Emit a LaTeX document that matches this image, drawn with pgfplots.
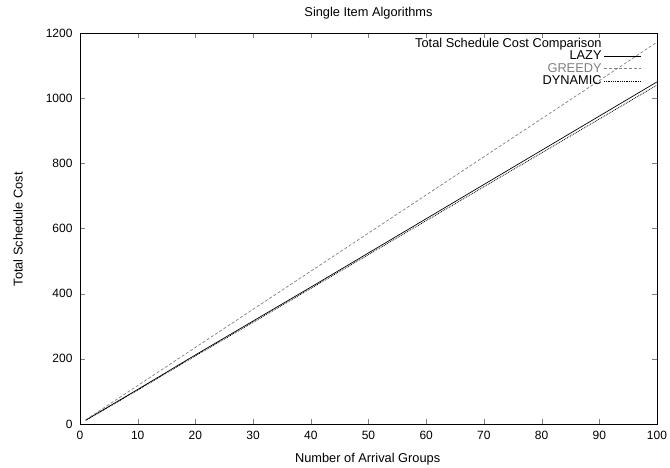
\documentclass[border=0pt]{standalone}
\usepackage{fontspec}
\setmainfont{Liberation Sans}
\usepackage{pgfplots}
\pgfplotsset{compat=1.18}
\begin{document}
\begin{tikzpicture}
\begin{axis}[
  scale only axis,
  width=577pt, height=391pt,
  xmin=0, xmax=100, ymin=0, ymax=1200,
  xtick={0,10,...,100}, ytick={0,200,...,1200},
  tick align=inside,
  major tick length=5pt,
  /pgf/number format/assume math mode=true,
  /pgf/number format/1000 sep={},
  tick label style={font=\fontsize{12}{13}\selectfont},
  title={Single Item Algorithms},
  title style={at={(axis description cs:0.5,1.0358)}, anchor=center, font=\fontsize{12.8}{14}\selectfont},
  xlabel={Number of Arrival Groups},
  ylabel={Total Schedule Cost},
  yticklabel style={xshift=-4pt},
  xticklabel style={yshift=-3.5pt},
  xlabel style={at={(axis description cs:0.4985,-0.091)}, anchor=center, font=\fontsize{12.8}{14}\selectfont},
  ylabel style={at={(axis description cs:-0.1075,0.498)}, anchor=center, rotate=0, font=\fontsize{12.8}{14}\selectfont},
  axis line style={line width=0.9pt},
  legend style={draw=none, fill=none, at={(0.9785,0.997)}, anchor=north east, font=\fontsize{12.8}{13}\selectfont, row sep=-2pt,
    /tikz/every even column/.append style={column sep=8pt}},
  legend cell align=right,
  legend plot pos=right,
  legend image code/.code={\draw[#1] (0cm,0cm) -- (1.3cm,0cm);},
]
\addlegendimage{empty legend}
\addlegendentry{Total Schedule Cost Comparison\rule[-4.5pt]{0pt}{3pt}}
\addplot[black, line width=0.7pt] coordinates {(1,12) (10,106) (20,212) (30,316) (40,420) (50,525) (60,630) (70,735) (80,840) (90,945) (100,1050)};
\addlegendentry{LAZY}
\addplot[gray, line width=0.7pt, densely dashed] coordinates {(1,13) (10,118) (20,235) (30,352) (40,469) (50,586) (60,703) (70,820) (80,937) (90,1054) (100,1172)};
\addlegendentry{\textcolor{gray}{GREEDY}}
\addplot[black, line width=0.8pt, densely dotted] coordinates {(1,11) (10,104) (20,209) (30,312) (40,416) (50,520) (60,624) (70,728) (80,832) (90,936) (100,1040)};
\addlegendentry{DYNAMIC}
\end{axis}
\pgfresetboundingbox
\path (-80pt,-43pt) rectangle (590pt,424pt);
\end{tikzpicture}
\end{document}
